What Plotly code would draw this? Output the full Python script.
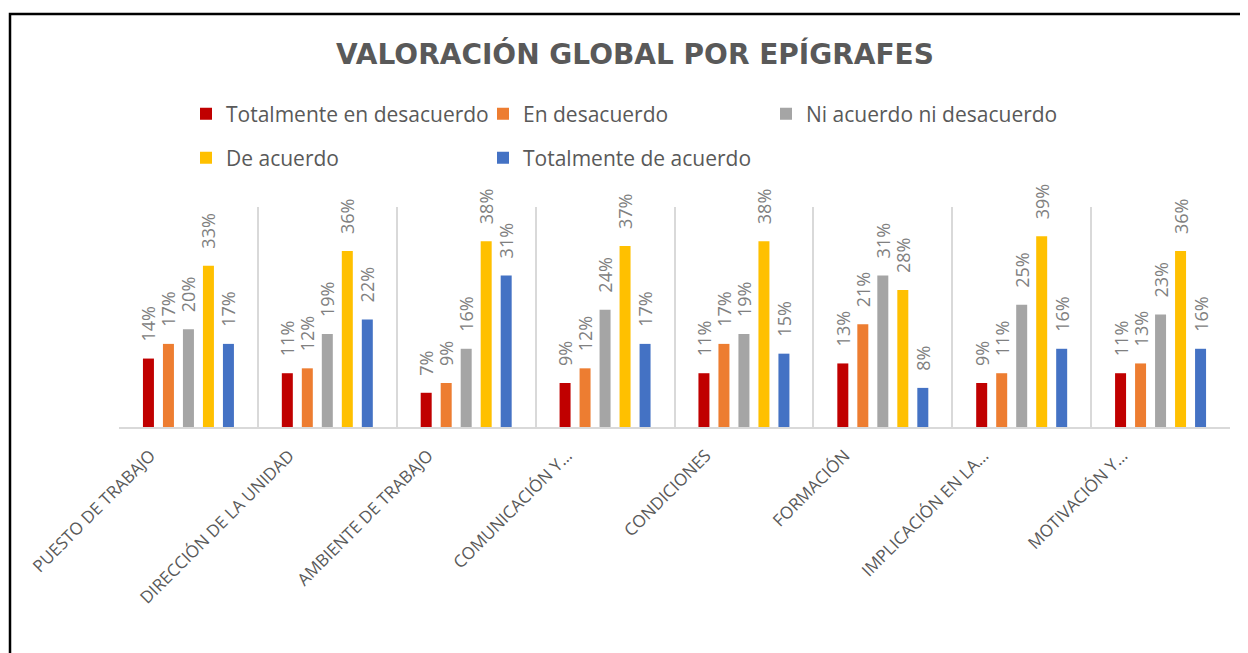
import plotly.graph_objects as go

categories = ["PUESTO DE TRABAJO", "DIRECCIÓN DE LA UNIDAD", "AMBIENTE DE TRABAJO",
              "COMUNICACIÓN Y…", "CONDICIONES", "FORMACIÓN",
              "IMPLICACIÓN EN LA…", "MOTIVACIÓN Y…"]

series_names = ["Totalmente en desacuerdo", "En desacuerdo", "Ni acuerdo ni desacuerdo",
                "De acuerdo", "Totalmente de acuerdo"]

tot_desacuerdo = [0.14, 0.11, 0.07, 0.09, 0.11, 0.13, 0.09, 0.11]
en_desacuerdo = [0.17, 0.12, 0.09, 0.12, 0.17, 0.21, 0.11, 0.13]
ni_ni = [0.20, 0.19, 0.16, 0.24, 0.19, 0.31, 0.25, 0.23]
de_acuerdo = [0.33, 0.36, 0.38, 0.37, 0.38, 0.28, 0.39, 0.36]
tot_acuerdo = [0.17, 0.22, 0.31, 0.17, 0.15, 0.08, 0.16, 0.16]

values = [tot_desacuerdo, en_desacuerdo, ni_ni, de_acuerdo, tot_acuerdo]
colors = ["#C00000", "#ED7D31", "#A5A5A5", "#FFC000", "#4472C4"]
legend_ids = ["legend", "legend2", "legend3", "legend4", "legend5"]

fig = go.Figure()
for name, vals, col, lg in zip(series_names, values, colors, legend_ids):
    fig.add_trace(go.Bar(
        name=name, x=categories, y=vals, marker_color=col,
        marker_line_width=0,
        texttemplate="\u00a0\u00a0\u00a0%{y:.0%}", textposition="outside",
        textangle=-90, constraintext="none", cliponaxis=False,
        textfont=dict(family="Open Sans", size=18, color="#808080"),
        legend=lg,
    ))

# page has an 8px body margin: work in figure coords = screen - 8
OFF = 8
W, H = 1248 - OFF, 653 - OFF
L = 119 - OFF
R = W - (1230 - OFF)
T = 207 - OFF
B = H - (427 - OFF)
pw, ph = W - L - R, H - T - B

def px_x(x):
    return (x - OFF - L) / pw

def px_y(y):
    return (H - B - (y - OFF)) / ph

legend_font = dict(family="Open Sans", size=21, color="#595959")
leg_pos = [(186, 114), (483, 114), (766, 114), (186, 158), (483, 158)]
layout_legends = {}
for lg, (lx, ly) in zip(legend_ids, leg_pos):
    layout_legends[lg] = dict(
        x=px_x(lx), y=px_y(ly), xanchor="left", yanchor="middle",
        xref="paper", yref="paper", font=legend_font,
        bgcolor="rgba(0,0,0,0)", itemwidth=30,
    )

fig.update_layout(
    width=W, height=H,
    margin=dict(l=L, r=R, t=T, b=B, autoexpand=False),
    paper_bgcolor="white", plot_bgcolor="white",
    barmode="group", bargap=0.28, bargroupgap=0.45,
    title=dict(text="<b>VALORACIÓN GLOBAL POR EPÍGRAFES</b>",
               x=(635 - OFF) / W, xanchor="center", xref="container",
               y=1 - (54 - OFF) / H, yanchor="middle", yref="container",
               font=dict(family="DejaVu Sans", size=28, color="#595959")),
    showlegend=True,
    **layout_legends,
    xaxis=dict(
        tickson="boundaries", showgrid=True, gridcolor="#D9D9D9", gridwidth=1.5,
        showline=True, linecolor="#D9D9D9", linewidth=2, ticks="",
        tickangle=-45, ticklabelshift=-38, ticklabelstandoff=10,
        tickfont=dict(family="Open Sans", size=17, color="#595959"),
        range=[-0.5, 7.5],
    ),
    yaxis=dict(range=[0, 0.45], visible=False, showgrid=False, zeroline=False),
    shapes=[dict(type="rect", xref="paper", yref="paper",
                 x0=px_x(10), x1=px_x(1270), y0=px_y(690), y1=px_y(14),
                 line=dict(color="black", width=2.5), fillcolor="rgba(0,0,0,0)",
                 layer="above")],
)

fig.write_html("out.html")
